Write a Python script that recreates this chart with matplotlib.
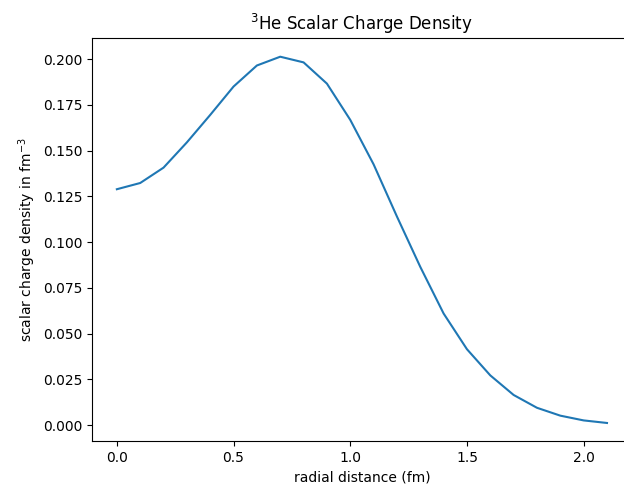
import matplotlib.pyplot as plt
import numpy as np

# radial grid (fm) and scalar charge density (fm^-3)
r = np.array([0.0, 0.1, 0.2, 0.3, 0.4, 0.5, 0.6, 0.7, 0.8, 0.9, 1.0,
              1.1, 1.2, 1.3, 1.4, 1.5, 1.6, 1.7, 1.8, 1.9, 2.0, 2.1])
rho = np.array([0.1289, 0.1323, 0.1407, 0.1545, 0.1695, 0.1850, 0.1965, 0.2013,
                0.1982, 0.1866, 0.1668, 0.1425, 0.1140, 0.0865, 0.0610, 0.0415,
                0.0272, 0.0165, 0.0095, 0.0052, 0.0026, 0.0012])

fig = plt.figure(figsize=(6.24, 4.86), dpi=100)
ax = fig.add_axes([0.148, 0.092, 0.864, 0.829])
ax.plot(r, rho)
ax.set_title(r'$^3$He Scalar Charge Density')
ax.set_xlabel('radial distance (fm)')
ax.set_ylabel(r'scalar charge density in fm$^{-3}$')
fig.savefig('out.png', dpi=100)
